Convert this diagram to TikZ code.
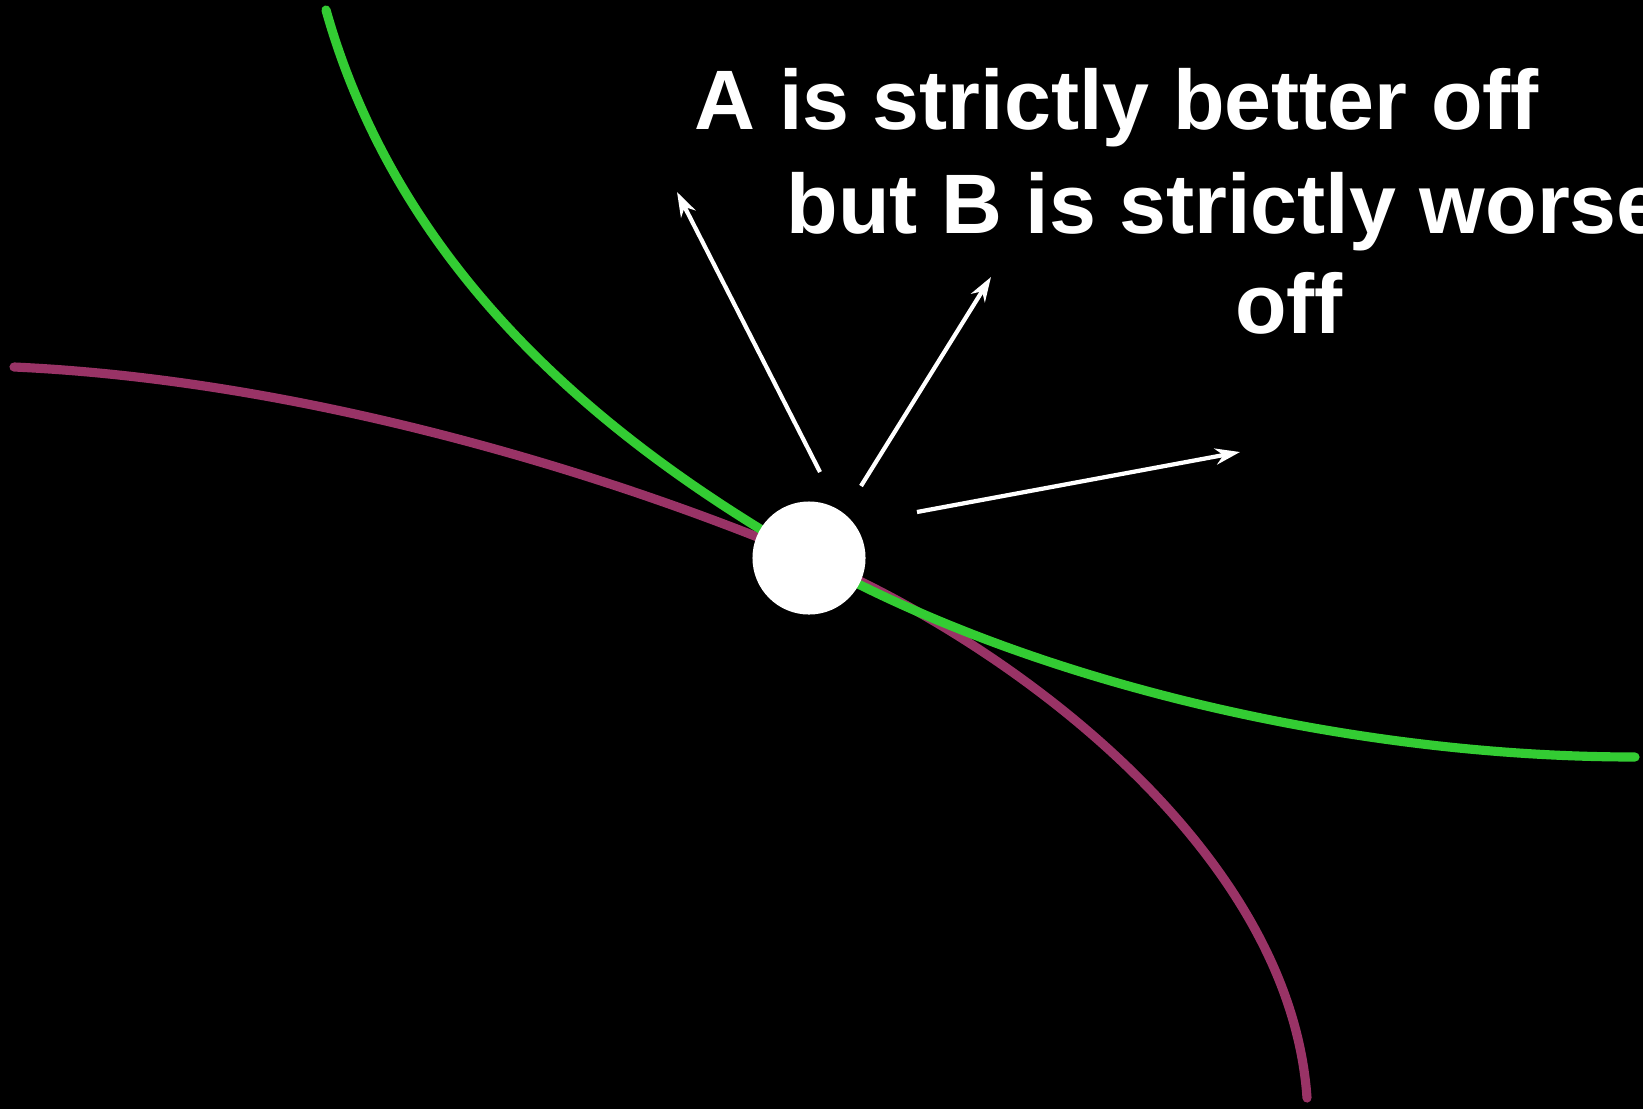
\documentclass[tikz,border=0pt]{standalone}
\usepackage{fontspec}
\setmainfont{Liberation Sans}
\usetikzlibrary{arrows.meta}
\definecolor{curvegreen}{RGB}{51,204,51}
\definecolor{curvepurple}{RGB}{153,51,102}
\begin{document}
\begin{tikzpicture}[x=0.01cm,y=-0.01cm,
  curve/.style={line width=2.6pt,line cap=round},
  vec/.style={white,line width=1.2pt,-{Stealth[length=7pt,width=4.6pt,inset=2.2pt]}},
  lbl/.style={white,font=\fontsize{24}{29}\selectfont\bfseries,inner sep=0pt}]
\fill[black] (0,0) rectangle (1643,1109);
\useasboundingbox (0,0) rectangle (1643,1109);
\clip (0,0) rectangle (1643,1109);
% curves
\coordinate (g0) at (326,10);
\coordinate (g1) at (1635,757);
\coordinate (p0) at (14,367);
\coordinate (p1) at (1307,1098);
\coordinate (c) at (809,558);
\draw[curve,curvepurple] (p0) .. controls (300,380) and (600,470) .. (c)
   .. controls (1010,642) and (1290,850) .. (p1);
\draw[curve,curvegreen] (g0) .. controls (405,290) and (630,455) .. (c)
   .. controls (1030,682) and (1350,757) .. (g1);
\node[circle,fill=white,minimum size=3.2cm,inner sep=0pt,minimum size=1.13cm] (pt) at (c) {};
% arrows
\coordinate (a1s) at (820,472);
\coordinate (a1e) at (677,192);
\coordinate (a2s) at (861,486);
\coordinate (a2e) at (991,277);
\coordinate (a3s) at (917,512);
\coordinate (a3e) at (1240,452);
\draw[vec] (a1s) -- (a1e);
\draw[vec] (a2s) -- (a2e);
\draw[vec] (a3s) -- (a3e);
% text
\node[lbl,anchor=base west] (t1) at (694,129) {A is strictly better off};
\node[lbl,anchor=base west] (t2) at (786,233) {but B is strictly worse};
\node[lbl,anchor=base] (t3) at (1289,333) {off};
\end{tikzpicture}
\end{document}
